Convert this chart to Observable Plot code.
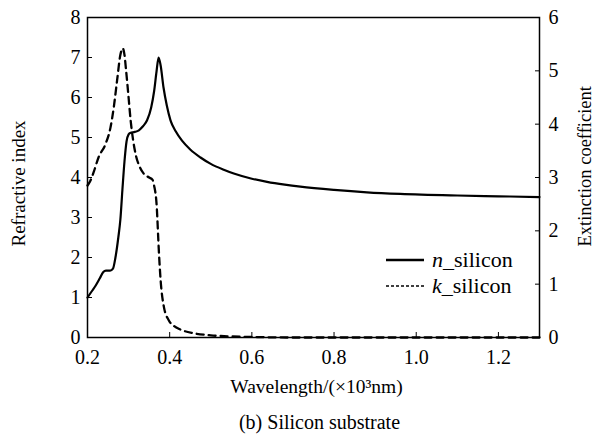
<!DOCTYPE html>
<html><head><meta charset="utf-8">
<script src="https://cdn.jsdelivr.net/npm/d3@7"></script>
<script src="https://cdn.jsdelivr.net/npm/@observablehq/plot@0.6"></script>
<style>
body{margin:0;background:#fff;}
#chart{position:relative;width:601px;height:442px;font-family:"Liberation Serif","Times New Roman",serif;}
#legend{position:absolute;left:386px;top:247px;font-size:22px;line-height:26px;color:#000;}
#legend div{display:flex;align-items:center;white-space:nowrap;}
#legend svg{margin-right:8px;}
</style></head><body><div id="chart"><div id="legend"></div></div>
<script>
// Solid curve: refractive index n (left axis)
const wavelength_n = [0.2,0.21,0.22,0.23,0.238,0.245,0.255,0.262,0.268,0.275,0.28,0.285,0.29,0.295,0.3,0.305,0.315,0.325,0.335,0.345,0.355,0.362,0.368,0.373,0.378,0.385,0.393,0.402,0.415,0.43,0.45,0.475,0.5,0.53,0.556,0.6,0.637,0.68,0.718,0.8,0.88,0.961,1.1,1.2,1.3];
const n_silicon = [1.0,1.15,1.3,1.48,1.63,1.67,1.67,1.72,2.0,2.5,2.95,3.7,4.4,4.9,5.08,5.12,5.14,5.18,5.28,5.43,5.75,6.15,6.65,7.0,6.8,6.25,5.8,5.43,5.15,4.92,4.7,4.5,4.34,4.2,4.1,3.97,3.89,3.82,3.77,3.69,3.63,3.59,3.55,3.53,3.51];
// Dashed curve: extinction coefficient k (right axis)
const wavelength_k = [0.2,0.207,0.215,0.227,0.244,0.256,0.264,0.272,0.28,0.286,0.29,0.294,0.3,0.305,0.311,0.317,0.327,0.337,0.35,0.358,0.362,0.368,0.374,0.378,0.386,0.398,0.41,0.426,0.459,0.5,0.55,0.6,0.7,1.3];
const k_silicon = [2.85,2.94,3.1,3.38,3.63,3.94,4.32,4.82,5.3,5.42,5.3,5.0,4.5,4.07,3.7,3.44,3.2,3.07,3.0,2.96,2.85,2.51,1.57,1.07,0.57,0.32,0.22,0.15,0.08,0.04,0.02,0.01,0,0];
const xTicks = [0.2,0.4,0.6,0.8,1.0,1.2];
const nTicks = [0,1,2,3,4,5,6,7,8];
const kTicks = [0,1,2,3,4,5,6];
const seriesNames = ["n", "k"];
const nMax = 8, kMax = 6;
const toN = k => k * nMax / kMax;

const nData = wavelength_n.map((x, i) => ({x, y: n_silicon[i]}));
const kData = wavelength_k.map((x, i) => ({x, y: toN(k_silicon[i])}));

const font = '"Liberation Serif","Times New Roman",serif';
const chart = Plot.plot({
  width: 601, height: 442,
  marginLeft: 87, marginRight: 62, marginTop: 17, marginBottom: 105,
  style: {fontFamily: font, fontSize: "20px", background: "white", color: "black", overflow: "visible"},
  x: {domain: [0.2, 1.3]},
  y: {domain: [0, nMax]},
  marks: [
    Plot.line(kData, {x: "x", y: "y", stroke: "black", strokeWidth: 2.3, strokeDasharray: "7,5", curve: "monotone-x"}),
    Plot.line(nData, {x: "x", y: "y", stroke: "black", strokeWidth: 2.2, curve: "monotone-x"}),
    Plot.frame({stroke: "black", strokeWidth: 1.5}),
    Plot.axisX(xTicks, {anchor: "bottom", tickSize: -5, tickPadding: 17, tickFormat: d => d.toFixed(1), label: null, fontSize: 20}),
    Plot.axisY(nTicks, {anchor: "left", tickSize: -5, tickPadding: 12, label: null, fontSize: 20}),
    Plot.axisY(kTicks.map(toN), {anchor: "right", tickSize: -5, tickPadding: 14, tickFormat: d => String(Math.round(d * kMax / nMax)), label: null, fontSize: 20}),
    Plot.text(["Refractive index"], {text: d => d, frameAnchor: "left", dx: -69, dy: 69, rotate: -90, textAnchor: "start", fontSize: 19}),
    Plot.text(["Extinction coefficient"], {text: d => d, frameAnchor: "right", dx: 46, dy: 69, rotate: -90, textAnchor: "start", fontSize: 18.5}),
    Plot.text(["Wavelength/(×10³nm)"], {text: d => d, frameAnchor: "bottom", dx: 3, dy: 55, fontSize: 19.5}),
    Plot.text(["(b) Silicon substrate"], {text: d => d, frameAnchor: "bottom", dx: 6, dy: 91, fontSize: 20})
  ]
});
document.getElementById("chart").prepend(chart);

const legend = document.getElementById("legend");
seriesNames.forEach((s, i) => {
  const row = document.createElement("div");
  const dash = i === 0 ? "" : 'stroke-dasharray="3,2"';
  const sw = i === 0 ? 2.5 : 1.3;
  row.innerHTML = `<svg width="38" height="10"><line x1="0" x2="38" y1="5" y2="5" stroke="black" stroke-width="${sw}" ${dash}/></svg><span><i>${s}</i>_silicon</span>`;
  legend.appendChild(row);
});
</script></body></html>
